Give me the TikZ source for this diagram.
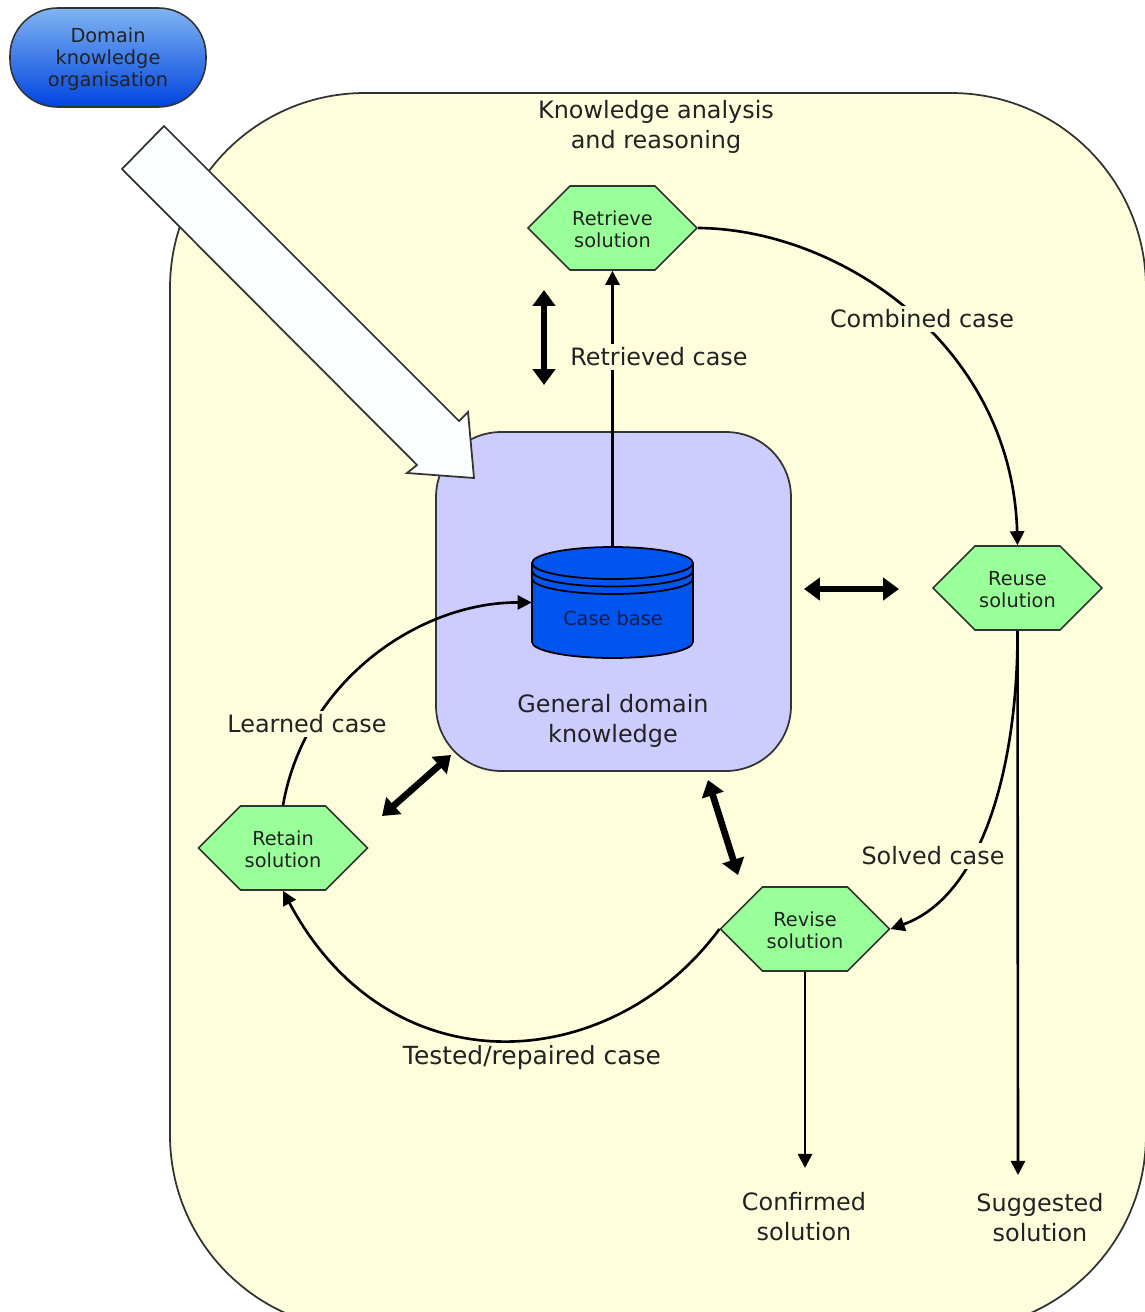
\documentclass[tikz,border=0pt]{standalone}
\usepackage{fontspec}
\setmainfont{DejaVu Sans}
\usetikzlibrary{calc}
\usetikzlibrary{positioning}
\usetikzlibrary{arrows.meta}
\usetikzlibrary{shapes.symbols}

\definecolor{outerfill}{HTML}{FFFEDC}
\definecolor{innerfill}{HTML}{CCCCFF}
\definecolor{hexfill}{HTML}{99FF99}
\definecolor{dbfill}{HTML}{0055EE}
\definecolor{domaintop}{HTML}{80B4F2}
\definecolor{domainbottom}{HTML}{0044E0}
\definecolor{inktext}{HTML}{222222}
\definecolor{edgegray}{HTML}{333333}
\definecolor{bigarrowfill}{HTML}{FBFEFF}

\tikzset{
  hexnode/.style={signal, signal to=east and west, signal pointer angle=90, draw=edgegray,
    fill=hexfill, line width=0.9pt, minimum width=3.38cm, minimum height=1.68cm,
    inner sep=0pt, align=center, text height=22.9pt, font=\fontsize{11}{12.6}\selectfont, text=inktext},
  caselabel/.style={fill=outerfill, inner sep=2pt, align=center,
    font=\fontsize{13.6}{17}\selectfont, text=inktext},
  plainlabel/.style={align=center, font=\fontsize{13.6}{17}\selectfont, text=inktext},
  flow/.style={black, line width=1.5pt, -{Triangle[length=8pt, width=8pt]}},
  interact/.style={black, line width=3.8pt, {Triangle[length=9pt, width=12.5pt]}-{Triangle[length=9pt, width=12.5pt]}},
}

\begin{document}
\begin{tikzpicture}[x=0.02cm, y=-0.02cm]
  \useasboundingbox (0,0) rectangle (1145,1312);

  % Outer area, cut off by the page on two sides
  \begin{scope}
    \clip (0,0) rectangle (1145,1312);
    \draw[edgegray, fill=outerfill, line width=1pt, rounded corners=3.9cm] (170,93) rectangle (1146,1330);
  \end{scope}

  % Top left block
  \node[draw=edgegray, line width=0.9pt, rounded corners=0.95cm, top color=domaintop, bottom color=domainbottom,
    minimum width=3.92cm, minimum height=1.98cm, inner sep=0pt, align=center, text height=35.7pt,
    font=\fontsize{11}{12.6}\selectfont, text=inktext]
    (domain) at (108,57.5) {Domain\\knowledge\\organisation};

  % Inner area
  \node[draw=edgegray, fill=innerfill, line width=1pt, rounded corners=1.3cm,
    minimum width=7.1cm, minimum height=6.78cm] (general) at (613.5,601.5) {};
  \node[plainlabel] (generallabel) at (613,721) {General domain\\knowledge};

  % White arrow
  \draw[edgegray, fill=bigarrowfill, line width=1pt] (164,126) -- (122,169) -- (417,465) -- (407,473)
    -- (474,478) -- (468,412) -- (459,421) -- cycle;

  % Case base
  \node[minimum width=3.22cm, minimum height=2.22cm, inner sep=0pt] (casebase) at (612.5,602.5) {};
  \draw[black, fill=dbfill, line width=1pt] (532,563) -- (532,642)
    arc[start angle=180, end angle=360, x radius=80.5, y radius=-16] -- (693,563);
  \draw[black, fill=dbfill, line width=1pt] (612.5,563) ellipse [x radius=80.5, y radius=16];
  \draw[black, line width=1pt] (532,571) arc[start angle=180, end angle=360, x radius=80.5, y radius=-15.5];
  \draw[black, line width=1pt] (532,578.5) arc[start angle=180, end angle=360, x radius=80.5, y radius=-15.5];
  \node[font=\fontsize{11}{12.6}\selectfont, text=inktext!80!blue] (casebasetext) at (613,618) {Case base};

  % Steps
  \node[hexnode] (retrieve) at (612.5,228) {Retrieve\\solution};
  \node[hexnode] (reuse) at (1017.5,588) {Reuse\\solution};
  \node[hexnode] (revise) at (805,929) {Revise\\solution};
  \node[hexnode] (retain) at (283,848) {Retain\\solution};

  % Free ends
  \coordinate (confirmedend) at (805,1168);
  \coordinate (suggestedend) at (1018,1175);

  % Flow between the steps
  \draw[flow] (casebase.north) -- (retrieve.south);
  \draw[flow] (retrieve.east) .. controls (840,229) and (1012,345) .. (reuse.north);
  \draw[flow] (reuse.south) .. controls (1018,760) and (985,895) .. (revise.east);
  \draw[flow] (revise.west) .. controls (612,1075) and (390,1092) .. (retain.south);
  \draw[flow] (retain.north) .. controls (305,680) and (420,602) .. (casebase.west);
  \draw[flow] (reuse.south) -- (suggestedend);
  \draw[flow] (revise.south) -- (confirmedend);

  % Labels on the flows
  \node[caselabel] (retrieved) at (659,357) {Retrieved case};
  \node[caselabel] (combined) at (922,319) {Combined case};
  \node[caselabel] (solved) at (933,856) {Solved case};
  \node[caselabel] (learned) at (307,724) {Learned case};
  \node[plainlabel, font=\fontsize{14.2}{17}\selectfont] (tested) at (532,1058) {Tested/repaired case};

  \node[plainlabel] (analysis) at (656,127) {Knowledge analysis\\and reasoning};
  \node[plainlabel] (confirmed) at (804,1217) {Confirmed\\solution};
  \node[plainlabel] (suggested) at (1040,1218) {Suggested\\solution};

  % Two way arrows
  \coordinate (a1) at (544,290);
  \coordinate (a2) at (544,385);
  \coordinate (b1) at (804,589);
  \coordinate (b2) at (899,589);
  \coordinate (c1) at (382,816);
  \coordinate (c2) at (451,755);
  \coordinate (d1) at (708,780);
  \coordinate (d2) at (738,875);
  \draw[interact] (a1) -- (a2);
  \draw[interact] (b1) -- (b2);
  \draw[interact] (c1) -- (c2);
  \draw[interact] (d1) -- (d2);

\end{tikzpicture}
\end{document}
